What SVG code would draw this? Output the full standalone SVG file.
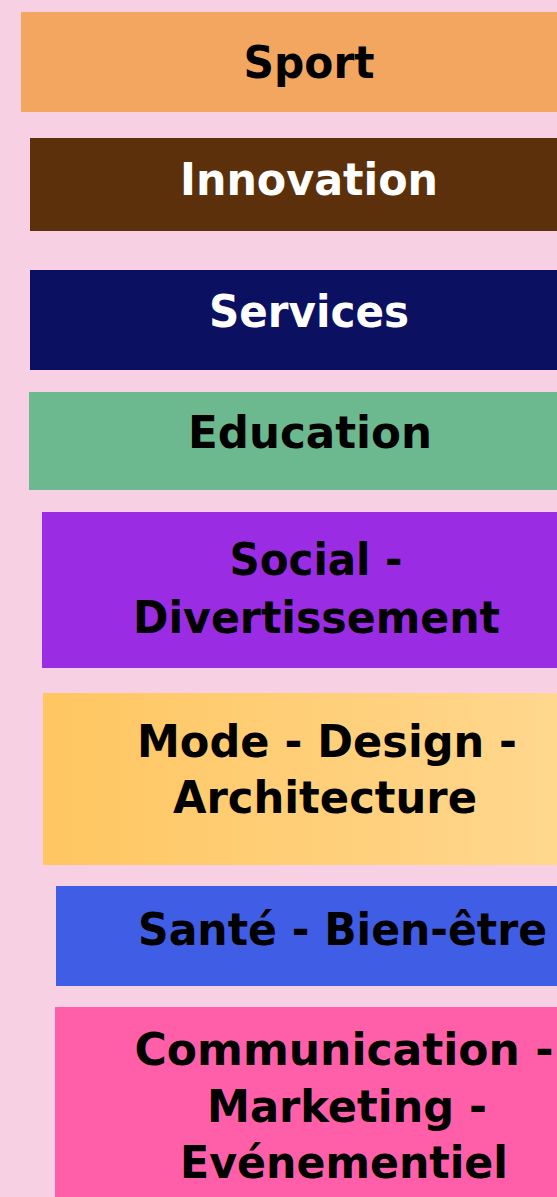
<svg xmlns="http://www.w3.org/2000/svg" width="557" height="1197" viewBox="0 0 557 1197">
<style>
.t{font-family:"DejaVu Sans","Liberation Sans",sans-serif;font-weight:bold;font-size:44px;text-anchor:middle;fill:#000}
.w{fill:#fff}
</style>
<defs>
<linearGradient id="gy" x1="0" y1="0" x2="1" y2="0">
<stop offset="0" stop-color="#ffc661"/>
<stop offset="1" stop-color="#ffd78e"/>
</linearGradient>
</defs>
<rect x="0" y="0" width="557" height="1197" fill="#f7d0e3"/>
<g id="sport">
<rect x="21" y="12" width="536" height="100" fill="#f2a660"/>
<text class="t" x="309" y="78" textLength="131" lengthAdjust="spacingAndGlyphs">Sport</text>
</g>
<g id="innovation">
<rect x="30" y="138" width="527" height="93" fill="#5c300b"/>
<text class="t w" x="309" y="195" textLength="258" lengthAdjust="spacingAndGlyphs">Innovation</text>
</g>
<g id="services">
<rect x="30" y="270" width="527" height="100" fill="#0b1060"/>
<text class="t w" x="309" y="327" textLength="200" lengthAdjust="spacingAndGlyphs">Services</text>
</g>
<g id="education">
<rect x="29" y="392" width="528" height="98" fill="#6cb98f"/>
<text class="t" x="310" y="448" textLength="244" lengthAdjust="spacingAndGlyphs">Education</text>
</g>
<g id="social">
<rect x="42" y="512" width="515" height="156" fill="#9a2de3"/>
<text class="t" x="316" y="575" textLength="173" lengthAdjust="spacingAndGlyphs">Social -</text>
<text class="t" x="316.5" y="633" textLength="367" lengthAdjust="spacingAndGlyphs">Divertissement</text>
</g>
<g id="mode">
<rect x="43" y="693" width="514" height="172" fill="url(#gy)"/>
<text class="t" x="327" y="757" textLength="380" lengthAdjust="spacingAndGlyphs">Mode - Design -</text>
<text class="t" x="325" y="813" textLength="304" lengthAdjust="spacingAndGlyphs">Architecture</text>
</g>
<g id="sante">
<rect x="56" y="886" width="501" height="100" fill="#405de6"/>
<text class="t" x="342.5" y="945" textLength="409" lengthAdjust="spacingAndGlyphs">Santé - Bien-être</text>
</g>
<g id="communication">
<rect x="55" y="1007" width="502" height="190" fill="#ff5fa8"/>
<text class="t" x="344" y="1065" textLength="419" lengthAdjust="spacingAndGlyphs">Communication -</text>
<text class="t" x="347" y="1122" textLength="280" lengthAdjust="spacingAndGlyphs">Marketing -</text>
<text class="t" x="344" y="1178" textLength="328" lengthAdjust="spacingAndGlyphs">Evénementiel</text>
</g>
<g id="connectors"/>
</svg>
